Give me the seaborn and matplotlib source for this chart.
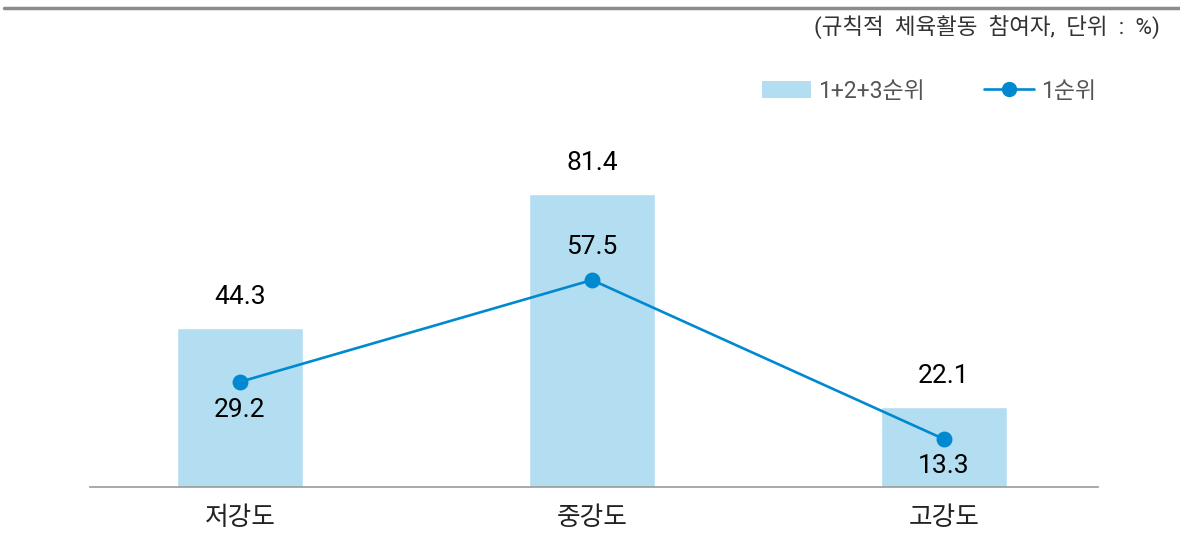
import matplotlib
matplotlib.use("Agg")
import matplotlib.pyplot as plt
import seaborn as sns
from matplotlib.lines import Line2D
from matplotlib.patches import Patch

# data
categories = ["저강도", "중강도", "고강도"]
total_rank = [44.3, 81.4, 22.1]   # 1+2+3순위
first_rank = [29.2, 57.5, 13.3]   # 1순위
legend_labels = ["1+2+3순위", "1순위"]
unit_note = "(규칙적  체육활동  참여자,  단위  :  %)"

BAR_COLOR = "#b3ddf0"
LINE_COLOR = "#0089d1"

sns.set_theme(style="white")
plt.rcParams["font.family"] = ["Roboto", "Noto Sans CJK KR", "DejaVu Sans"]

fig = plt.figure(figsize=(11.8, 5.51), dpi=100)
ax = fig.add_axes([90 / 1180, 64 / 551, 1008 / 1180, 360 / 551])

sns.barplot(x=categories, y=total_rank, color=BAR_COLOR, width=0.358,
            saturation=1, ax=ax, zorder=1)
sns.pointplot(x=categories, y=first_rank, color=LINE_COLOR, markers="o",
              markersize=10, linewidth=1.9, ax=ax, zorder=3)

ax.set_xlim(-0.426, 2.4375)
ax.set_ylim(0, 100)

# value labels
for i, v in enumerate(total_rank):
    ax.annotate(f"{v:.1f}", (i, v), xytext=(0, 31), textcoords="offset pixels",
                ha="center", va="center", fontsize=19, color="#000000",
                annotation_clip=False)
line_offsets = [-28, 33, -27]
for i, (v, off) in enumerate(zip(first_rank, line_offsets)):
    ax.annotate(f"{v:.1f}", (i, v), xytext=(0, off), textcoords="offset pixels",
                ha="center", va="center", fontsize=19, color="#000000",
                annotation_clip=False, zorder=4)

for s in ["top", "left", "right"]:
    ax.spines[s].set_visible(False)
ax.spines["bottom"].set_color("#9a9a9a")
ax.spines["bottom"].set_linewidth(1.2)
ax.set_yticks([])
ax.set_xlabel("")
ax.set_ylabel("")
ax.tick_params(axis="x", length=0, pad=14, labelsize=18.5, labelcolor="#222222")

# legend
handles = [
    Patch(facecolor=BAR_COLOR, edgecolor="none"),
    Line2D([0], [0], color=LINE_COLOR, linewidth=1.9, marker="o", markersize=10),
]
fig.legend(handles, legend_labels, loc="center left",
           bbox_to_anchor=(762 / 1180, 1 - 91 / 551), ncol=2, frameon=False,
           fontsize=16.5, labelcolor="#555555", handlelength=2.15,
           handletextpad=0.3, columnspacing=2.6, borderpad=0, borderaxespad=0)

# header line and unit note
fig.add_artist(Line2D([0.003, 1.0], [1 - 8 / 551, 1 - 8 / 551], color="#8c8c8c",
                      linewidth=2.5, transform=fig.transFigure))
fig.text(1160 / 1180, 1 - 27 / 551, unit_note, ha="right", va="center",
         fontsize=16.2, color="#333333")

fig.savefig("out.png", dpi=100)
